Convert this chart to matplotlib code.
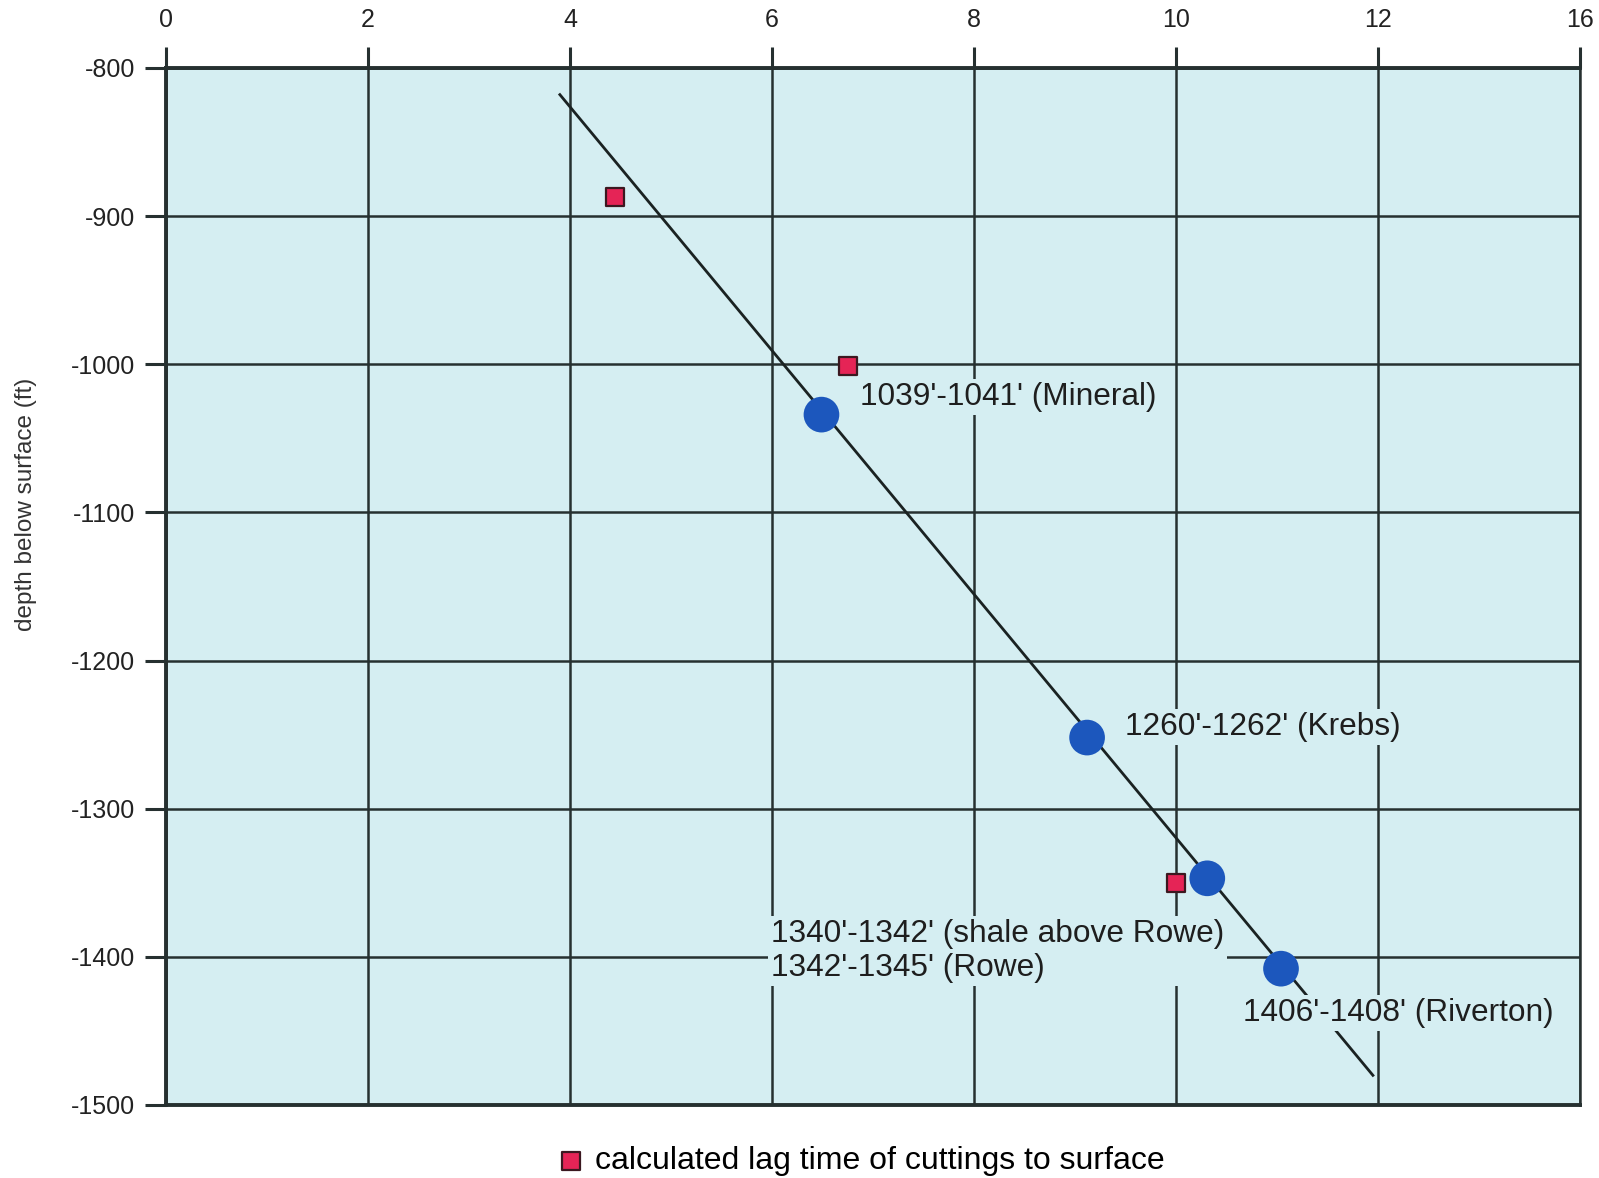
import matplotlib
matplotlib.use("Agg")
import matplotlib.pyplot as plt

plt.rcParams["font.family"] = ["Liberation Sans", "DejaVu Sans"]
plt.rcParams["axes.unicode_minus"] = False

# lag time (min) vs depth (ft)
lag_x = [4.45, 6.75, 10.0]
lag_y = [-887, -1001, -1350]

sample_x = [6.49, 9.12, 10.31, 11.04]
sample_y = [-1034, -1252, -1347, -1408]

trend_x = [3.9, 11.95]
trend_y = [-818, -1480]

x_ticks = [0, 2, 4, 6, 8, 10, 12, 14]
x_ticklabels = ["0", "2", "4", "6", "8", "10", "12", "16"]
y_ticks = [-800, -900, -1000, -1100, -1200, -1300, -1400, -1500]

labels = [
    (6.87, -1022, "1039'-1041' (Mineral)"),
    (9.50, -1245, "1260'-1262' (Krebs)"),
    (5.99, -1396, "1340'-1342' (shale above Rowe)\n1342'-1345' (Rowe)"),
    (10.66, -1438, "1406'-1408' (Riverton)"),
]

panel = "#d5eef2"
ink = "#263030"

fig = plt.figure(figsize=(15.99, 11.78), dpi=100)
ax = fig.add_axes([0.1038, 0.062, 0.8843, 0.8803])
ax.set_facecolor(panel)

ax.set_xlim(0, 14)
ax.set_ylim(-1500, -800)
ax.xaxis.tick_top()
ax.set_xticks(x_ticks)
ax.set_xticklabels(x_ticklabels)
ax.set_yticks(y_ticks)
ax.tick_params(axis="both", direction="out", length=15, width=2.2, color=ink,
               labelsize=18, labelcolor="#222")
ax.tick_params(axis="x", pad=11)
ax.tick_params(axis="y", pad=7)

ax.grid(True, color=ink, linewidth=1.8)
ax.set_axisbelow(True)
for side in ["left", "top", "bottom"]:
    ax.spines[side].set_linewidth(2.8)
    ax.spines[side].set_color(ink)
ax.spines["right"].set_linewidth(1.8)
ax.spines["right"].set_color(ink)

ax.plot(trend_x, trend_y, color="#1a2222", linewidth=2.0, zorder=3)
ax.scatter(sample_x, sample_y, s=660, color="#1c57bd", edgecolors="none", zorder=6)
ax.scatter(lag_x, lag_y, s=150, marker="s", color="#e52456", edgecolors="#3b1820",
           linewidths=1.6, zorder=6, label="calculated lag time of cuttings to surface")

for lx, ly, txt in labels:
    ax.text(lx, ly, txt, fontsize=22.8, color="#1e1e1e", ha="left", va="center",
            linespacing=1.18, zorder=5,
            bbox=dict(facecolor=panel, edgecolor="none", pad=2))

ax.set_ylabel("depth below surface (ft)", fontsize=17.5, color="#333")
ax.yaxis.set_label_coords(-0.091, 0.579)

ax.legend(loc="upper center", bbox_to_anchor=(0.492, -0.012), frameon=False,
          fontsize=23, handlelength=0.8, handletextpad=0.35, markerscale=1.1)

fig.savefig("out.png", dpi=100)
